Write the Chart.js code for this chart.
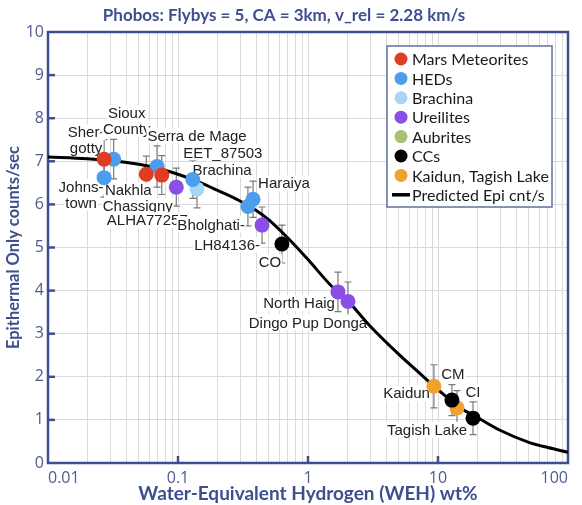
<!DOCTYPE html>
<html>
<head>
<meta charset="utf-8">
<script src="https://cdn.jsdelivr.net/npm/chart.js@4"></script>
<style>
  body { margin: 0; background: #fff; }
  #wrap { width: 582px; height: 505px; }
</style>
</head>
<body>
<div id="wrap"><canvas id="myChart" width="582" height="505"></canvas></div>
<script>
// values: WEH wt% (x), epithermal counts/sec (y), +/- error
const marsNames = ["Shergotty", "Nakhla", "Chassigny"];
const marsWeh = [0.027, 0.057, 0.075];
const marsCps = [7.05, 6.70, 6.68];
const marsErr = [0.45, 0.42, 0.45];

const hedNames = ["Sioux County", "Johnstown", "Serra de Mage", "EET_87503", "Haraiya", "Bholghati"];
const hedWeh = [0.032, 0.027, 0.069, 0.13, 0.378, 0.345];
const hedCps = [7.05, 6.62, 6.88, 6.58, 6.12, 5.95];
const hedErr = [0.46, 0.45, 0.48, 0.44, 0.42, 0.45];

const brachinaNames = ["Brachina"];
const brachinaWeh = [0.14];
const brachinaCps = [6.36];
const brachinaErr = [0.44];

const ureiliteNames = ["ALHA77257", "LH84136", "North Haig", "Dingo Pup Donga"];
const ureiliteWeh = [0.097, 0.443, 1.70, 2.03];
const ureiliteCps = [6.40, 5.52, 3.97, 3.75];
const ureiliteErr = [0.44, 0.42, 0.46, 0.45];

const ccNames = ["CO", "CM", "CI"];
const ccWeh = [0.63, 12.8, 18.6];
const ccCps = [5.08, 1.46, 1.04];
const ccErr = [0.44, 0.36, 0.38];

const kaidunNames = ["Kaidun", "Tagish Lake"];
const kaidunWeh = [9.3, 14.0];
const kaidunCps = [1.78, 1.28];
const kaidunErr = [0.5, 0.4];

// predicted epithermal count rate curve
const curveWeh = [0.01, 0.02, 0.03, 0.05, 0.07, 0.1, 0.15, 0.2, 0.3, 0.4, 0.5, 0.7, 1, 1.5, 2, 3, 5, 7, 10, 15, 20, 30, 50, 70, 100];
const curveCps = [7.10, 7.06, 7.02, 6.93, 6.84, 6.70, 6.50, 6.33, 6.08, 5.86, 5.64, 5.22, 4.72, 4.12, 3.78, 3.18, 2.52, 2.12, 1.70, 1.27, 1.06, 0.76, 0.48, 0.36, 0.25];

// axis ticks
const xTickValues = [0.01, 0.02, 0.03, 0.04, 0.05, 0.06, 0.07, 0.08, 0.09,
  0.1, 0.2, 0.3, 0.4, 0.5, 0.6, 0.7, 0.8, 0.9,
  1, 2, 3, 4, 5, 6, 7, 8, 9,
  10, 20, 30, 40, 50, 60, 70, 80, 90, 100];
const xTickLabels = { 0.01: "0.01", 0.1: "0.1", 1: "1", 10: "10", 100: "100" };

// point annotations
const noteNames = ["Shergotty", "Sioux County", "Serra de Mage", "EET_87503", "Brachina", "Haraiya",
  "Johnstown", "Nakhla", "Chassigny", "ALHA77257", "Bholghati", "LH84136", "CO",
  "North Haig", "Dingo Pup Donga", "Kaidun", "CM", "CI", "Tagish Lake"];
const noteText = [["Sher-", "gotty"], ["Sioux", "County"], ["Serra de Mage"], ["EET_87503"], ["Brachina"], ["Haraiya"],
  ["Johns-", "town"], ["Nakhla"], ["Chassigny"], ["ALHA77257"], ["Bholghati-"], ["LH84136-"], ["CO"],
  ["North Haig"], ["Dingo Pup Donga"], ["Kaidun"], ["CM"], ["CI"], ["Tagish Lake"]];
// offset from the point in px, and text alignment
const notePlace = [[-18, -19, "center"], [13, -38, "center"], [40, -31, "center"], [30, -27, "center"], [25, -19, "center"], [5, -16, "left"],
  [-23, 17, "center"], [-18, 16, "center"], [-24, 31, "center"], [-29, 33, "center"], [-3, 18, "right"], [-2, 20, "right"], [-12, 18, "center"],
  [-3, 11, "right"], [-40, 21, "center"], [-4, 7, "right"], [1, -26, "center"], [0, -26, "center"], [-30, 22, "center"]];

const blue = "#3d4f8e";
const tickBlue = "#4d5c8c";

function pts(names, xs, ys, errs) {
  return xs.map((v, i) => ({ x: v, y: ys[i], err: errs[i], name: names[i] }));
}

function group(label, color, data) {
  return {
    type: "scatter",
    label: label,
    data: data,
    backgroundColor: color,
    borderWidth: 0,
    pointRadius: 7.5,
    pointHoverRadius: 7.5,
    order: 1
  };
}

const extras = {
  id: "extras",
  beforeDatasetsDraw(chart) {
    const { ctx, chartArea: a, scales: { x, y } } = chart;
    ctx.save();

    // frame
    ctx.strokeStyle = blue;
    ctx.lineWidth = 2.5;
    ctx.strokeRect(a.left, a.top, a.right - a.left, a.bottom - a.top);

    // inward ticks
    ctx.lineWidth = 2.5;
    for (let v = 1; v < 10; v++) {
      const py = y.getPixelForValue(v);
      ctx.beginPath();
      ctx.moveTo(a.left, py);
      ctx.lineTo(a.left + 7, py);
      ctx.stroke();
    }
    [0.1, 1, 10].forEach(v => {
      const px = x.getPixelForValue(v);
      ctx.beginPath();
      ctx.moveTo(px, a.bottom);
      ctx.lineTo(px, a.bottom - 7);
      ctx.stroke();
    });

    // error bars
    ctx.strokeStyle = "#7a7a7a";
    ctx.lineWidth = 1.2;
    chart.data.datasets.forEach(ds => {
      if (ds.type !== "scatter") return;
      ds.data.forEach(p => {
        const px = x.getPixelForValue(p.x);
        const t = y.getPixelForValue(p.y + p.err);
        const b = y.getPixelForValue(p.y - p.err);
        ctx.beginPath();
        ctx.moveTo(px, t); ctx.lineTo(px, b);
        ctx.moveTo(px - 3.5, t); ctx.lineTo(px + 3.5, t);
        ctx.moveTo(px - 3.5, b); ctx.lineTo(px + 3.5, b);
        ctx.stroke();
      });
    });

    // annotations
    const all = [];
    chart.data.datasets.forEach(ds => { if (ds.type === "scatter") all.push(...ds.data); });
    ctx.font = "15px 'Liberation Sans Narrow', 'Arial Narrow', sans-serif";
    ctx.textBaseline = "middle";
    noteNames.forEach((n, i) => {
      const p = all.find(d => d.name === n);
      if (!p) return;
      const [dx, dy, align] = notePlace[i];
      const cx = x.getPixelForValue(p.x) + dx;
      const cy = y.getPixelForValue(p.y) + dy;
      const lines = noteText[i];
      const lh = 16;
      lines.forEach((s, k) => {
        const ly = cy + (k - (lines.length - 1) / 2) * lh;
        const w = ctx.measureText(s).width;
        let left = cx - w / 2;
        if (align === "left") left = cx;
        if (align === "right") left = cx - w;
        ctx.fillStyle = "#fff";
        ctx.fillRect(left - 1, ly - 8, w + 2, 16);
        ctx.fillStyle = "#222";
        ctx.textAlign = "left";
        ctx.fillText(s, left, ly + 1);
      });
    });
    ctx.restore();
  },
  afterDraw(chart) {
    const ctx = chart.ctx;
    ctx.save();
    // legend box
    const bx = 387, by = 46, bw = 165, bh = 161;
    ctx.fillStyle = "#fff";
    ctx.fillRect(bx, by, bw, bh);
    ctx.strokeStyle = "#6070a0";
    ctx.lineWidth = 1.5;
    ctx.strokeRect(bx, by, bw, bh);
    ctx.font = "16px Lato, 'Open Sans', sans-serif";
    ctx.textBaseline = "middle";
    ctx.textAlign = "left";
    chart.data.datasets.forEach((ds, i) => {
      const cy = by + 13 + i * 19.4;
      if (ds.type === "line") {
        ctx.strokeStyle = ds.borderColor;
        ctx.lineWidth = 3.5;
        ctx.beginPath();
        ctx.moveTo(392, cy);
        ctx.lineTo(410, cy);
        ctx.stroke();
      } else {
        ctx.fillStyle = ds.backgroundColor;
        ctx.beginPath();
        ctx.arc(401, cy, 6.5, 0, Math.PI * 2);
        ctx.fill();
      }
      ctx.fillStyle = "#1a1a1a";
      ctx.fillText(ds.label, 412, cy + 1);
    });
    ctx.restore();
  }
};

let ctx = document.getElementById("myChart").getContext("2d");
let myChart = new Chart(ctx, {
  data: {
    datasets: [
      group("Mars Meteorites", "#e03c1f", pts(marsNames, marsWeh, marsCps, marsErr)),
      group("HEDs", "#4d9ded", pts(hedNames, hedWeh, hedCps, hedErr)),
      group("Brachina", "#a8d6f7", pts(brachinaNames, brachinaWeh, brachinaCps, brachinaErr)),
      group("Ureilites", "#8a4fe6", pts(ureiliteNames, ureiliteWeh, ureiliteCps, ureiliteErr)),
      group("Aubrites", "#a9bf72", []),
      group("CCs", "#000000", pts(ccNames, ccWeh, ccCps, ccErr)),
      group("Kaidun, Tagish Lake", "#f0a12f", pts(kaidunNames, kaidunWeh, kaidunCps, kaidunErr)),
      {
        type: "line",
        label: "Predicted Epi cnt/s",
        data: curveWeh.map((v, i) => ({ x: v, y: curveCps[i] })),
        borderColor: "#000000",
        borderWidth: 3,
        pointRadius: 0,
        cubicInterpolationMode: "monotone",
        fill: false,
        order: 10
      }
    ]
  },
  options: {
    responsive: false,
    animation: false,
    layout: { padding: { left: 0, right: 14, top: 0, bottom: 0 } },
    plugins: {
      legend: { display: false },
      tooltip: { enabled: false },
      title: {
        display: true,
        text: "Phobos: Flybys = 5, CA = 3km, v_rel = 2.28 km/s",
        color: blue,
        font: { family: "Lato, 'Open Sans', sans-serif", size: 17, weight: "bold" },
        padding: { top: 5, bottom: 6.6 }
      }
    },
    scales: {
      x: {
        type: "logarithmic",
        min: 0.01,
        max: 100,
        afterBuildTicks: s => { s.ticks = xTickValues.map(v => ({ value: v })); },
        afterFit: s => { s.height = 42; },
        grid: { color: "#dadada", lineWidth: 1, drawTicks: false },
        border: { display: false },
        ticks: {
          autoSkip: false,
          maxRotation: 0,
          align: "inner",
          padding: 6,
          color: tickBlue,
          font: { family: "'Open Sans', sans-serif", size: 16 },
          callback: v => xTickLabels[v] || ""
        },
        title: {
          display: true,
          text: "Water-Equivalent Hydrogen (WEH) wt%",
          color: blue,
          font: { family: "Lato, 'Open Sans', sans-serif", size: 19, weight: "bold" },
          padding: { top: 0, bottom: 0 }
        }
      },
      y: {
        min: 0,
        max: 10,
        afterFit: s => { s.width = 48; },
        grid: { color: "#dadada", lineWidth: 1, drawTicks: false },
        border: { display: false },
        ticks: {
          stepSize: 1,
          padding: 4,
          color: tickBlue,
          font: { family: "'Open Sans', sans-serif", size: 16 }
        },
        title: {
          display: true,
          text: "Epithermal Only counts/sec",
          color: blue,
          font: { family: "Lato, 'Open Sans', sans-serif", size: 16.5, weight: "bold" },
          padding: { top: 4, bottom: 0 }
        }
      }
    }
  },
  plugins: [extras]
});
</script>
</body>
</html>
